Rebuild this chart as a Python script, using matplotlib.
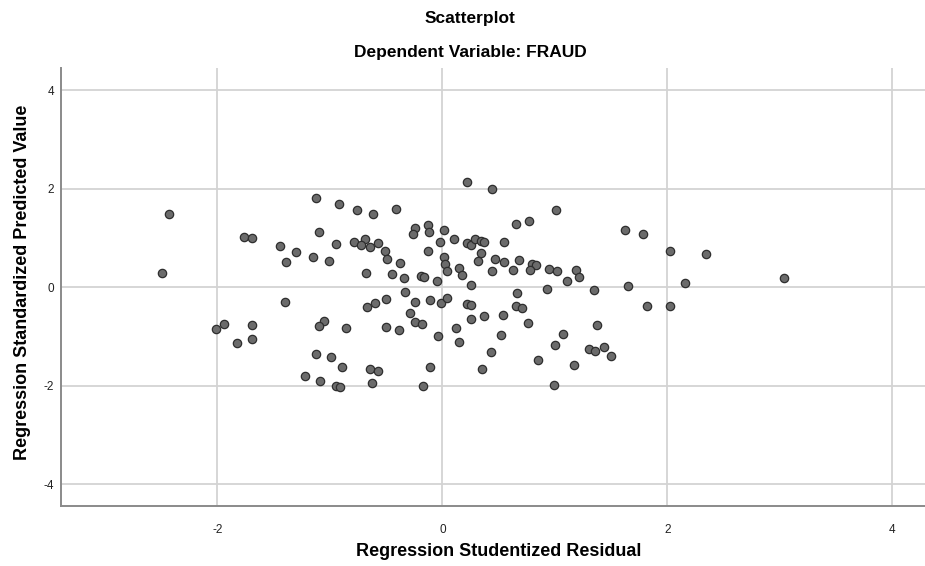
import matplotlib.pyplot as plt

# Regression Studentized Residual (x) vs Regression Standardized Predicted Value (y)
residual = [
    -2.43, -2.49, -1.76, -1.69, -1.44, -1.30, -1.39, -1.40, -1.94, -2.01,
    -1.69, -1.69, -1.83,
    -1.12, -0.92, -0.76, -0.62, -0.41, -1.10, -0.95, -0.79, -0.69, -0.72,
    -0.64, -0.57, -0.51, -0.49, -0.38, -1.15, -1.01, -0.68, -0.45, -0.34,
    -0.24, -0.26, -0.13, -0.12, 0.01, -0.02, -0.13, 0.01, 0.02, 0.04,
    -0.19, -0.16, -0.05, -0.33, -0.50, -0.60, -0.67, -0.24, -0.11, -0.01,
    0.04, -0.29, -0.24, -0.18, -1.05, -1.10, -0.86, -0.50, -0.39, -0.04,
    -1.12, -0.99, -0.89, -0.64, -0.57, -0.11, -1.22, -1.09, -0.95, -0.91,
    -0.63, -0.17,
    0.22, 0.44, 1.01, 0.65, 0.77, 0.10, 0.22, 0.25, 0.29, 0.34, 0.37, 0.55,
    0.34, 0.32, 0.47, 0.55, 0.68, 0.80, 0.83, 0.63, 0.78, 0.95, 1.02, 1.19,
    1.21, 1.11, 0.15, 0.17, 0.44, 0.25, 0.93, 1.35, 0.66, 0.22, 0.25, 0.65,
    0.71, 0.54, 0.37, 0.25, 0.76, 1.37, 0.12, 1.07, 0.52, 0.15, 1.00, 1.30,
    1.36, 0.43, 0.85, 1.17, 0.35, 0.99,
    1.62, 1.78, 2.02, 2.34, 3.04, 2.16, 1.65, 1.82, 2.02, 1.44, 1.50,
]
predicted = [
    1.48, 0.30, 1.03, 1.00, 0.83, 0.71, 0.51, -0.30, -0.74, -0.84,
    -0.77, -1.06, -1.14,
    1.82, 1.69, 1.57, 1.48, 1.60, 1.13, 0.88, 0.92, 0.98, 0.85,
    0.81, 0.90, 0.73, 0.58, 0.49, 0.62, 0.54, 0.30, 0.27, 0.19,
    1.21, 1.09, 1.27, 1.13, 1.17, 0.92, 0.73, 0.62, 0.48, 0.33,
    0.22, 0.20, 0.12, -0.09, -0.24, -0.32, -0.40, -0.29, -0.25, -0.32,
    -0.22, -0.53, -0.71, -0.74, -0.69, -0.78, -0.82, -0.80, -0.87, -0.99,
    -1.35, -1.41, -1.62, -1.67, -1.71, -1.62, -1.80, -1.90, -2.00, -2.03,
    -1.94, -2.00,
    2.14, 1.99, 1.58, 1.28, 1.34, 0.98, 0.90, 0.86, 0.98, 0.95, 0.93, 0.93,
    0.69, 0.54, 0.57, 0.52, 0.56, 0.48, 0.46, 0.35, 0.35, 0.37, 0.33, 0.35,
    0.21, 0.12, 0.40, 0.24, 0.33, 0.04, -0.03, -0.05, -0.11, -0.34, -0.37, -0.38,
    -0.43, -0.57, -0.59, -0.65, -0.73, -0.76, -0.83, -0.94, -0.98, -1.12, -1.18, -1.25,
    -1.29, -1.32, -1.48, -1.58, -1.67, -1.99,
    1.17, 1.09, 0.73, 0.68, 0.18, 0.09, 0.03, -0.39, -0.39, -1.21, -1.39,
]
xticks = [-2, 0, 2, 4]
yticks = [-4, -2, 0, 2, 4]

plt.rcParams["font.family"] = ["Liberation Sans", "DejaVu Sans"]
plt.rcParams["axes.unicode_minus"] = False

fig = plt.figure(figsize=(9.25, 5.66), dpi=100)
ax = fig.add_axes([0.066, 0.1065, 0.934, 0.7728])

ax.scatter(residual, predicted, s=36, facecolor="#6b6b6b",
           edgecolor="#2e2e2e", linewidth=0.9, zorder=3)

ax.set_xticks(xticks)
ax.set_yticks(yticks)
ax.set_xlim(-3.39, 4.29)
ax.set_ylim(-4.44, 4.45)
ax.grid(True, color="#d3d3d3", linewidth=1.3, zorder=0)
ax.set_axisbelow(True)
ax.tick_params(length=0, labelsize=8.5, colors="#222222")
ax.tick_params(axis="x", pad=13)
ax.tick_params(axis="y", pad=5)

for side in ["top", "right"]:
    ax.spines[side].set_visible(False)
for side in ["left", "bottom"]:
    ax.spines[side].set_color("#8a8a8a")
    ax.spines[side].set_linewidth(1.4)

fig.text(0.539, 0.026, "Regression Studentized Residual", ha="center",
         va="center", fontsize=13, fontweight="bold")
fig.text(0.024, 0.502, "Regression Standardized Predicted Value",
         ha="center", va="center", rotation=90, fontsize=13,
         fontweight="bold")

fig.text(0.508, 0.968, "Scatterplot", ha="center", va="center",
         fontsize=12.5, fontweight="bold")
fig.text(0.508, 0.908, "Dependent Variable: FRAUD", ha="center",
         va="center", fontsize=12.5, fontweight="bold")

plt.savefig("out.png", dpi=100)
